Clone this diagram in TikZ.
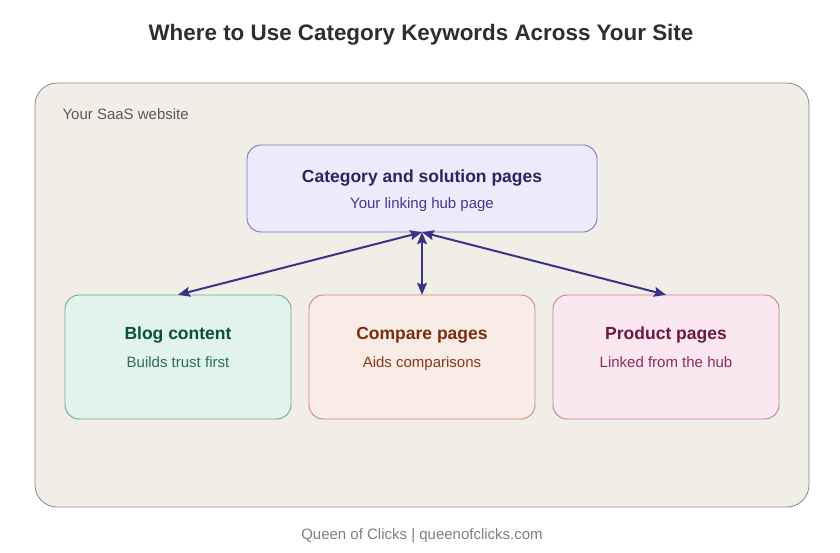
\documentclass[tikz,border=0pt]{standalone}
\usepackage{fontspec}
\setmainfont{Liberation Sans}
\usetikzlibrary{arrows.meta}
\definecolor{outerfill}{HTML}{F1EEE7}
\definecolor{outerdraw}{HTML}{8A8A86}
\definecolor{hubfill}{HTML}{ECEAFB}
\definecolor{hubdraw}{HTML}{7B73C0}
\definecolor{hubtitle}{HTML}{2A2560}
\definecolor{hubsub}{HTML}{3F3A8F}
\definecolor{blogfill}{HTML}{E1F3EC}
\definecolor{blogdraw}{HTML}{6AA98F}
\definecolor{blogtitle}{HTML}{0B4F3F}
\definecolor{blogsub}{HTML}{2C6E52}
\definecolor{cmpfill}{HTML}{F9EBE6}
\definecolor{cmpdraw}{HTML}{C98A70}
\definecolor{cmptitle}{HTML}{7A2E0E}
\definecolor{cmpsub}{HTML}{8A3A1A}
\definecolor{prodfill}{HTML}{FAE7EF}
\definecolor{proddraw}{HTML}{C47C98}
\definecolor{prodtitle}{HTML}{6B1A3D}
\definecolor{prodsub}{HTML}{8B2F55}
\definecolor{arrowcol}{HTML}{3B3486}
\tikzset{
  card/.style={draw, line width=0.9pt, rounded corners=14pt},
  ctitle/.style={font=\fontsize{17.5}{20}\selectfont\bfseries, anchor=center, text height=0.72em, text depth=0.2em},
  csub/.style={font=\fontsize{15}{18}\selectfont, anchor=center, text height=0.72em, text depth=0.2em},
  link/.style={draw=arrowcol, line width=2pt, {Stealth[length=12pt,width=10pt,inset=2pt]}-{Stealth[length=12pt,width=10pt,inset=2pt]}}
}
\begin{document}
\begin{tikzpicture}[x=1pt,y=-1pt]
\useasboundingbox (0,0) rectangle (840,553);
\fill[white] (0,0) rectangle (840,553);
\node[font=\fontsize{22.4}{26}\selectfont\bfseries, text=black!82] (title) at (421,35) {Where to Use Category Keywords Across Your Site};
\draw[fill=outerfill, draw=outerdraw, line width=0.8pt, rounded corners=22pt] (35,83) rectangle (809,507);
\node[anchor=west, font=\fontsize{15}{18}\selectfont, text=black!65] (lbl) at (59,114) {Your SaaS website};
% hub
\draw[card, fill=hubfill, draw=hubdraw] (247,145) rectangle (597,232);
\node (hub) at (422,188.5) [minimum width=350pt, minimum height=87pt] {};
\node[ctitle, text=hubtitle] (hubt) at (422,180) {Category and solution pages};
\node[csub, text=hubsub] (hubs) at (422,206) {Your linking hub page};
% blog
\draw[card, fill=blogfill, draw=blogdraw] (65,295) rectangle (291,419);
\node (blog) at (178,357) [minimum width=226pt, minimum height=124pt] {};
\node[ctitle, text=blogtitle] (blogt) at (178,337) {Blog content};
\node[csub, text=blogsub] (blogs) at (178,365) {Builds trust first};
% compare
\draw[card, fill=cmpfill, draw=cmpdraw] (309,295) rectangle (535,419);
\node (cmp) at (422,357) [minimum width=226pt, minimum height=124pt] {};
\node[ctitle, text=cmptitle] (cmpt) at (422,337) {Compare pages};
\node[csub, text=cmpsub] (cmps) at (422,365) {Aids comparisons};
% product
\draw[card, fill=prodfill, draw=proddraw] (553,295) rectangle (779,419);
\node (prod) at (666,357) [minimum width=226pt, minimum height=124pt] {};
\node[ctitle, text=prodtitle] (prodt) at (666,337) {Product pages};
\node[csub, text=prodsub] (prods) at (666,365) {Linked from the hub};
% connectors
\path[link] (hub.south) -- (blog.north);
\path[link] (hub.south) -- (cmp.north);
\path[link] (hub.south) -- (prod.north);
\node[font=\fontsize{15}{18}\selectfont, text=black!50] (foot) at (422,536) {Queen of Clicks | queenofclicks.com};
\end{tikzpicture}
\end{document}
